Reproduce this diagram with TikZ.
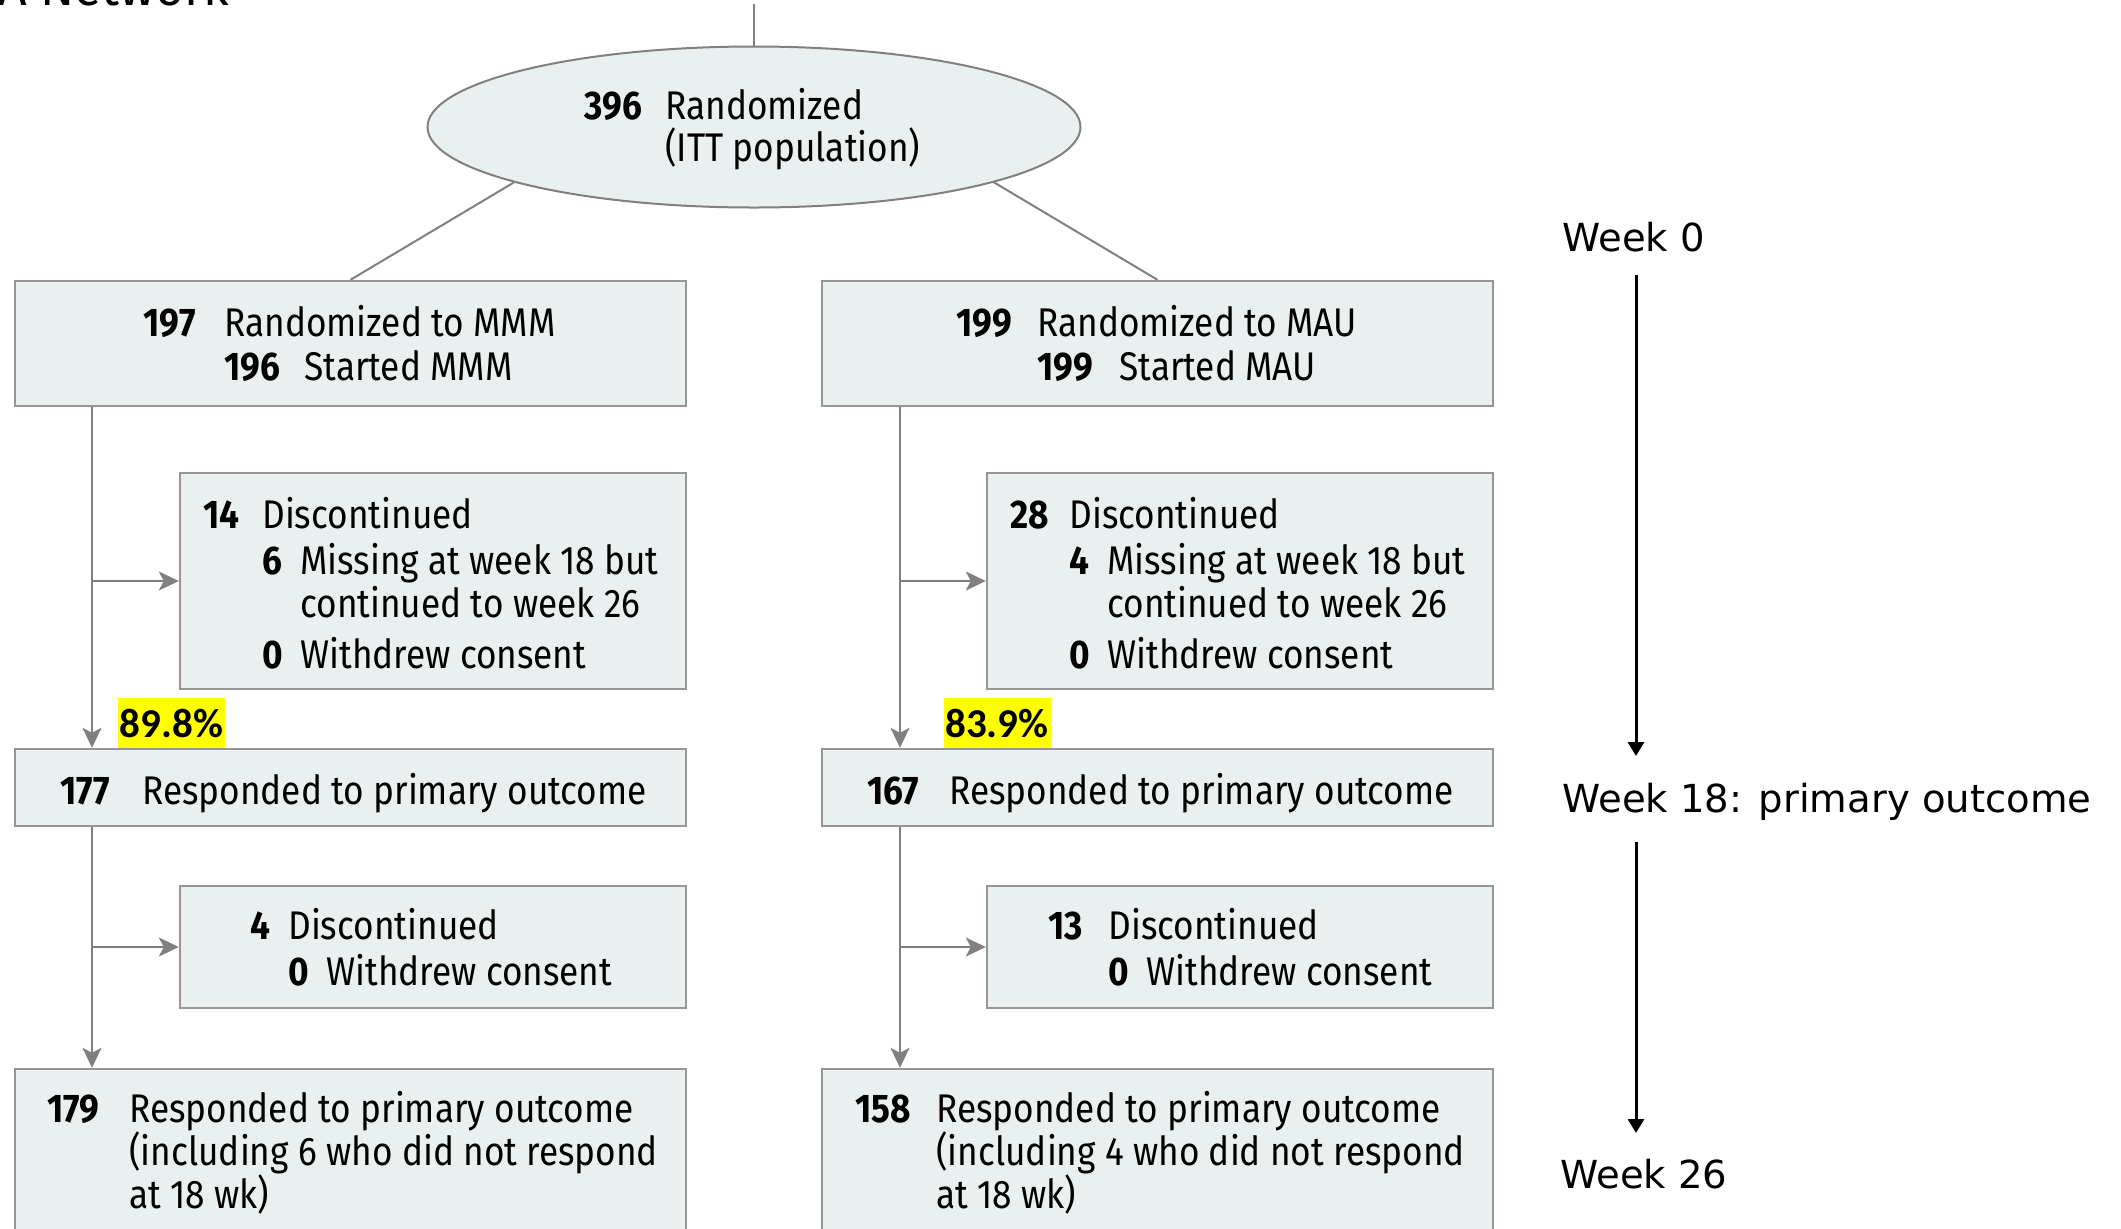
\documentclass[tikz,border=0pt]{standalone}
\usepackage{fontspec}
\setmainfont{Fira Sans}
\newfontfamily\boxfont[FakeStretch=0.88]{Fira Sans}
\newfontfamily\pctfont{Carlito}
\newfontfamily\weekfont{DejaVu Sans}
\usetikzlibrary{arrows.meta,shapes.geometric}
\definecolor{boxfill}{RGB}{234,239,239}
\definecolor{boxline}{RGB}{150,150,150}
\definecolor{connline}{RGB}{128,128,128}
\definecolor{hl}{RGB}{255,255,0}
\newcommand\tn[4]{\node[txt] (#1) at (#2,#3) {#4};}
\newcommand\nn[4]{\node[num] (#1) at (#2,#3) {#4};}
\begin{document}
\begin{tikzpicture}[x=0.5pt,y=-0.5pt,
  box/.style={draw=boxline, fill=boxfill, line width=1.2pt, inner sep=0pt, minimum width=335.5pt},
  sbox/.style={box, minimum width=253pt},
  ell/.style={ellipse, draw=connline, fill=boxfill, line width=1pt, inner sep=0pt, minimum width=326.5pt, minimum height=80.5pt},
  txt/.style={anchor=base west, inner sep=0pt, font=\boxfont\fontsize{20pt}{23pt}\selectfont},
  num/.style={anchor=base west, inner sep=0pt, font=\boxfont\bfseries\fontsize{20pt}{23pt}\selectfont},
  pct/.style={fill=hl, inner sep=0pt, minimum width=53.5pt, minimum height=25pt, font=\pctfont\bfseries\fontsize{20.5pt}{24pt}\selectfont},
  conn/.style={draw=connline, line width=1pt},
  carrow/.style={conn, -{Stealth[length=10pt,width=9.5pt,inset=2.5pt]}},
  week/.style={anchor=base west, inner sep=0pt, font=\weekfont\fontsize{19.3pt}{23pt}\selectfont},
  tarrow/.style={draw=black, line width=1.5pt, -{Triangle[length=7pt,width=8pt]}}
]
\useasboundingbox (0,0) rectangle (2121,1228);
\clip (0,0) rectangle (2121,1228);

% header fragment
\node[anchor=base east, inner sep=0pt, font=\fontsize{25pt}{30pt}\selectfont] (hdr) at (230,5) {JAMA Network};

% ellipse
\node[ell] (R) at (754,127) {};
\coordinate (top) at (754,4);
\nn{r1}{584}{119}{396}
\tn{r2}{665}{119}{Randomized}
\tn{r3}{665}{161}{(ITT population)}

% boxes
\node[box, minimum height=62.5pt] (A) at (350.5,343.5) {};
\node[box, minimum height=62.5pt] (B) at (1157.5,343.5) {};
\node[sbox, minimum height=108pt] (C) at (433,581) {};
\node[sbox, minimum height=108pt] (D) at (1240,581) {};
\node[box, minimum height=38.5pt] (E) at (350.5,787.5) {};
\node[box, minimum height=38.5pt] (F) at (1157.5,787.5) {};
\node[sbox, minimum height=61pt] (G) at (433,947) {};
\node[sbox, minimum height=61pt] (H) at (1240,947) {};
\node[box, minimum height=90.5pt] (I) at (350.5,1159.5) {};
\node[box, minimum height=90.5pt] (J) at (1157.5,1159.5) {};

% texts A/B
\nn{a1}{143}{336}{197}
\tn{a2}{224}{336}{Randomized to MMM}
\nn{a3}{224}{380}{196}
\tn{a4}{304}{380}{Started MMM}
\nn{b1}{956}{336}{199}
\tn{b2}{1037}{336}{Randomized to MAU}
\nn{b3}{1037}{380}{199}
\tn{b4}{1119}{380}{Started MAU}

% texts C/D
\nn{c1}{203}{528}{14}
\tn{c2}{262}{528}{Discontinued}
\nn{c3}{262}{574}{6}
\tn{c4}{300}{574}{Missing at week 18 but}
\tn{c5}{300}{617}{continued to week 26}
\nn{c6}{262}{668}{0}
\tn{c7}{300}{668}{Withdrew consent}
\nn{d1}{1010}{528}{28}
\tn{d2}{1069}{528}{Discontinued}
\nn{d3}{1069}{574}{4}
\tn{d4}{1107}{574}{Missing at week 18 but}
\tn{d5}{1107}{617}{continued to week 26}
\nn{d6}{1069}{668}{0}
\tn{d7}{1107}{668}{Withdrew consent}

% texts E/F
\nn{e1}{60}{804}{177}
\tn{e2}{142}{804}{Responded to primary outcome}
\nn{f1}{867}{804}{167}
\tn{f2}{949}{804}{Responded to primary outcome}

% texts G/H
\nn{g1}{250}{939}{4}
\tn{g2}{288}{939}{Discontinued}
\nn{g3}{288}{985}{0}
\tn{g4}{326}{985}{Withdrew consent}
\nn{h1}{1048}{939}{13}
\tn{h2}{1108}{939}{Discontinued}
\nn{h3}{1108}{985}{0}
\tn{h4}{1146}{985}{Withdrew consent}

% texts I/J
\nn{i1}{47}{1122}{179}
\tn{i2}{129}{1122}{Responded to primary outcome}
\tn{i3}{129}{1165}{(including 6 who did not respond}
\tn{i4}{129}{1208}{at 18 wk)}
\nn{j1}{855}{1122}{158}
\tn{j2}{936}{1122}{Responded to primary outcome}
\tn{j3}{936}{1165}{(including 4 who did not respond}
\tn{j4}{936}{1208}{at 18 wk)}

% percentages
\node[pct] (p1) at (171.5,723) {89.8\%};
\node[pct] (p2) at (997,723) {83.9\%};

% connectors
\coordinate (xl) at (92,0);
\coordinate (xr) at (900,0);
\draw[conn] (top) -- (R.north);
\draw[conn] (R.193) -- (A.north);
\draw[conn] (R.-13) -- (B.north);
\draw[carrow] (A.south -| xl) -- (E.north -| xl);
\draw[carrow] (xl |- C.west) -- (C.west);
\draw[carrow] (E.south -| xl) -- (I.north -| xl);
\draw[carrow] (xl |- G.west) -- (G.west);
\draw[carrow] (B.south -| xr) -- (F.north -| xr);
\draw[carrow] (xr |- D.west) -- (D.west);
\draw[carrow] (F.south -| xr) -- (J.north -| xr);
\draw[carrow] (xr |- H.west) -- (H.west);

% timeline
\node[week] (w0) at (1562,251) {Week 0};
\node[week] (w18) at (1562,812) {Week 18: primary outcome};
\node[week] (w26) at (1560,1188) {Week 26};
\coordinate (t1s) at (1636,275);
\coordinate (t1e) at (1636,756);
\coordinate (t2s) at (1636,842);
\coordinate (t2e) at (1636,1133);
\draw[tarrow] (t1s) -- (t1e);
\draw[tarrow] (t2s) -- (t2e);
\end{tikzpicture}
\end{document}
